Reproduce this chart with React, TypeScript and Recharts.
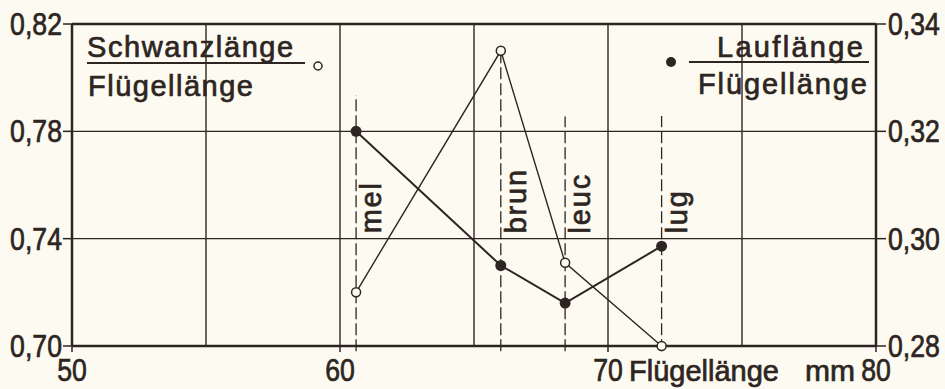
import React from 'react'
import { ComposedChart, Line, XAxis, YAxis, CartesianGrid, ReferenceLine } from 'recharts'

// forms of the species, wing length (mm) and the two ratios
const forms = ['mel', 'brun', 'leuc', 'lug']
const wingLength = [60.6, 66.0, 68.4, 72.0]
const tailRatio = [0.72, 0.81, 0.731, 0.70]
const tarsusRatio = [0.32, 0.295, 0.288, 0.2986]
const markerTop = [0.7935, 0.81, 0.7855, 0.7857]

const xTicks = [50, 55, 60, 65, 70, 75, 80]
const xLabelTicks = [50, 60, 70, 80]
const leftTicks = [0.70, 0.74, 0.78, 0.82]
const rightTicks = [0.28, 0.30, 0.32, 0.34]

const INK = '#2d2522'
const BG = '#fdfbf1'
const FONT = '"Liberation Sans", Arial, sans-serif'
// the printed lettering is a bit heavier than the regular face
const heavy = { stroke: INK, strokeWidth: 0.7 }

const tailData = forms.map((f, i) => ({ form: f, x: wingLength[i], y: tailRatio[i] }))
const tarsusData = forms.map((f, i) => ({ form: f, x: wingLength[i], y: tarsusRatio[i] }))

const comma = (v: number) => v.toFixed(2).replace('.', ',')

function LeftTick({ x, y, payload }: any) {
  return (
    <text transform={`translate(${x} ${y + 11}) scale(0.86 1)`} textAnchor="end" fontFamily={FONT} fontSize={31} fill={INK} {...heavy}>
      {comma(payload.value)}
    </text>
  )
}

function RightTick({ x, y, payload }: any) {
  return (
    <text transform={`translate(${x} ${y + 11}) scale(0.86 1)`} textAnchor="start" fontFamily={FONT} fontSize={31} fill={INK} {...heavy}>
      {comma(payload.value)}
    </text>
  )
}

function BottomTick({ x, y, payload }: any) {
  const v = payload.value
  if (!xLabelTicks.includes(v)) return null
  return (
    <g>
      <line x1={x} x2={x} y1={y} y2={y + 6} stroke={INK} strokeWidth={1.5} />
      <text transform={`translate(${x} ${y + 35}) scale(0.86 1)`} textAnchor="middle" fontFamily={FONT} fontSize={31} fill={INK} {...heavy}>
        {v}
      </text>
      {v === 70 && (
        <>
          <text x={x + 21} y={y + 35} fontFamily={FONT} fontSize={29} fill={INK} {...heavy}>Flügellänge</text>
          <text x={x + 247} y={y + 35} textAnchor="end" fontFamily={FONT} fontSize={30} fill={INK} {...heavy}>mm</text>
        </>
      )}
    </g>
  )
}

const markerLabel = (name: string) => (props: any) => {
  const vb = props.viewBox || {}
  const tx = vb.x + 25
  const ty = vb.y + vb.height - 118
  return (
    <text x={tx} y={ty} transform={`rotate(-90 ${tx} ${ty})`} fontFamily={FONT} fontSize={29} letterSpacing={1.8} fill={INK} {...heavy}>
      {name}
    </text>
  )
}

export default function App() {
  return (
    <div style={{ position: 'relative', width: 945, height: 389, background: BG }}>
      <style>{`body{margin:0;background:${BG}}`}</style>
      <ComposedChart width={945} height={389} margin={{ top: 24, right: 0, bottom: 0, left: 0 }}>
        <CartesianGrid yAxisId="left" stroke={INK} strokeWidth={1.4} />
        <XAxis
          dataKey="x"
          type="number"
          domain={[50, 80]}
          ticks={xTicks}
          interval={0}
          height={43}
          axisLine={{ stroke: INK, strokeWidth: 2.5 }}
          tickLine={false}
          tickSize={0}
          tickMargin={0}
          tick={<BottomTick />}
        />
        <YAxis
          yAxisId="left"
          orientation="left"
          type="number"
          domain={[0.70, 0.82]}
          ticks={leftTicks}
          interval={0}
          width={72}
          axisLine={{ stroke: INK, strokeWidth: 2.5 }}
          tickLine={{ stroke: INK, strokeWidth: 1.5 }}
          tickSize={9}
          tickMargin={1}
          tick={<LeftTick />}
        />
        <YAxis
          yAxisId="right"
          orientation="right"
          type="number"
          domain={[0.28, 0.34]}
          ticks={rightTicks}
          interval={0}
          width={69}
          axisLine={{ stroke: INK, strokeWidth: 2.5 }}
          tickLine={{ stroke: INK, strokeWidth: 1.5 }}
          tickSize={10}
          tickMargin={2}
          tick={<RightTick />}
        />
        <ReferenceLine yAxisId="left" y={0.82} stroke={INK} strokeWidth={2.5} />
        {forms.map((f, i) => (
          <ReferenceLine
            key={f}
            yAxisId="left"
            ifOverflow="visible"
            segment={[{ x: wingLength[i], y: 0.698 }, { x: wingLength[i], y: markerTop[i] }]}
            stroke={INK}
            strokeWidth={1.3}
            strokeDasharray="12 4"
            label={markerLabel(f)}
          />
        ))}
        <Line
          yAxisId="right"
          data={tarsusData}
          dataKey="y"
          stroke={INK}
          strokeWidth={2}
          dot={{ r: 5.5, fill: INK, stroke: INK, strokeWidth: 0 }}
          activeDot={false}
          isAnimationActive={false}
        />
        <Line
          yAxisId="left"
          data={tailData}
          dataKey="y"
          stroke={INK}
          strokeWidth={1.4}
          dot={{ r: 4.5, fill: BG, stroke: INK, strokeWidth: 1.5 }}
          activeDot={false}
          isAnimationActive={false}
        />
      </ComposedChart>
      <svg width={945} height={389} style={{ position: 'absolute', left: 0, top: 0, pointerEvents: 'none' }}>
        <g fontFamily={FONT} fontSize={29} fill={INK} stroke={INK} strokeWidth={0.7}>
          <text x={87} y={57} letterSpacing={1.6}>Schwanzlänge</text>
          <text x={88} y={96} letterSpacing={1.5}>Flügellänge</text>
          <text x={717} y={57} letterSpacing={2.3}>Lauflänge</text>
          <text x={698} y={94} letterSpacing={1.9}>Flügellänge</text>
        </g>
        <line x1={87} x2={305} y1={63} y2={63} stroke={INK} strokeWidth={2} />
        <circle cx={318} cy={66} r={4} fill={BG} stroke={INK} strokeWidth={1.5} />
        <line x1={689} x2={869} y1={62} y2={62} stroke={INK} strokeWidth={2} />
        <circle cx={671} cy={62} r={5} fill={INK} />
      </svg>
    </div>
  )
}
